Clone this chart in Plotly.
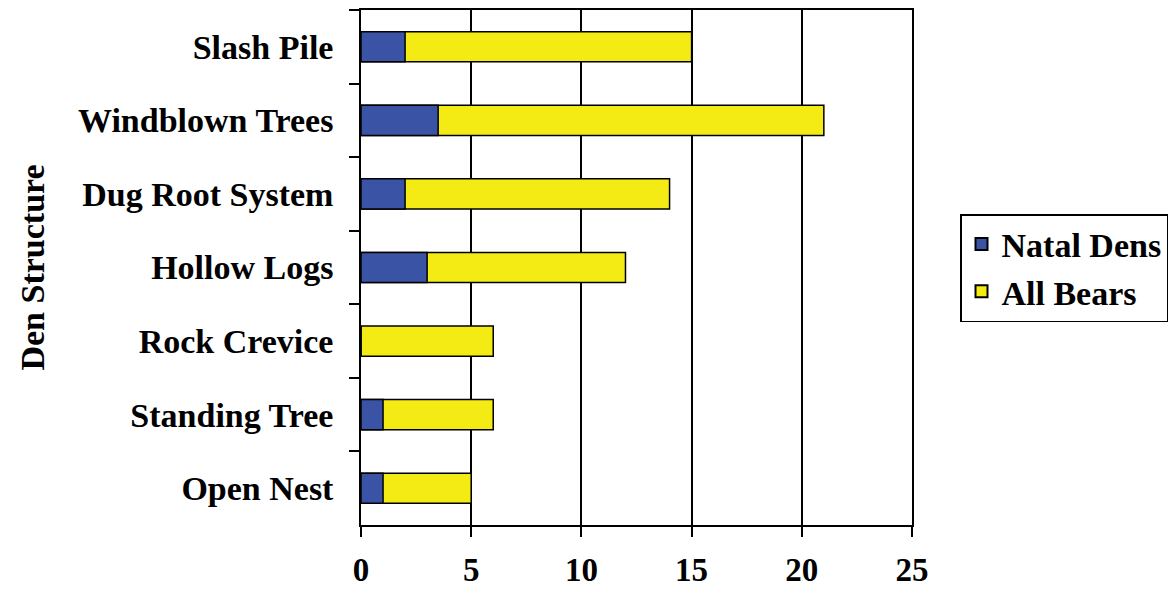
import plotly.graph_objects as go

categories = ["Slash Pile", "Windblown Trees", "Dug Root System", "Hollow Logs",
              "Rock Crevice", "Standing Tree", "Open Nest"]
natal_dens = [2, 3.5, 2, 3, 0, 1, 1]
all_bears = [15, 21, 14, 12, 6, 6, 5]
x_ticks = [0, 5, 10, 15, 20, 25]

FONT = "Liberation Serif"
FS = 34
BLUE = "#3A53A4"
YELLOW = "#F5EB14"

fig = go.Figure()
fig.add_trace(go.Bar(
    y=categories, x=all_bears, orientation="h", name="All Bears",
    marker=dict(color=YELLOW, line=dict(color="black", width=1.5)),
))
fig.add_trace(go.Bar(
    y=categories, x=natal_dens, orientation="h", name="Natal Dens",
    marker=dict(color=BLUE, line=dict(color="black", width=1.5)),
))

fig.update_layout(
    width=1173, height=592,
    margin=dict(l=361, r=261, t=10, b=67),
    barmode="overlay", bargap=0.59,
    plot_bgcolor="white", paper_bgcolor="white",
    font=dict(family=FONT, size=FS, color="black", weight="bold"),
    legend=dict(
        xref="container", yref="container",
        x=960 / 1173, y=1 - 268 / 592, xanchor="left", yanchor="middle",
        traceorder="reversed",
        bordercolor="black", borderwidth=1.5,
        font=dict(family=FONT, size=FS, color="black", weight="bold"),
        itemsizing="constant", tracegroupgap=0,
    ),
    annotations=[dict(
        text="Den Structure", textangle=-90,
        xref="paper", yref="paper", x=-0.597, y=0.5,
        xanchor="center", yanchor="middle", showarrow=False,
        font=dict(family=FONT, size=FS, color="black", weight="bold"),
    )],
)
fig.update_xaxes(
    range=[0, 25], tickvals=x_ticks, automargin=False,
    showgrid=True, gridcolor="black", gridwidth=1.5,
    showline=True, linecolor="black", linewidth=1.5, mirror=True,
    ticks="outside", ticklen=10, tickwidth=1.5, tickcolor="black",
    ticklabelstandoff=5, zeroline=False,
    tickfont=dict(family=FONT, size=33, color="black", weight="bold"),
)
fig.update_yaxes(
    autorange="reversed", type="category", automargin=False,
    showline=True, linecolor="black", linewidth=1.5, mirror=True,
    ticks="outside", ticklen=10, tickwidth=1.5, tickcolor="black",
    tickson="boundaries", ticklabelstandoff=19,
    tickfont=dict(family=FONT, size=FS, color="black", weight="bold"),
)

fig.write_html("out.html")
